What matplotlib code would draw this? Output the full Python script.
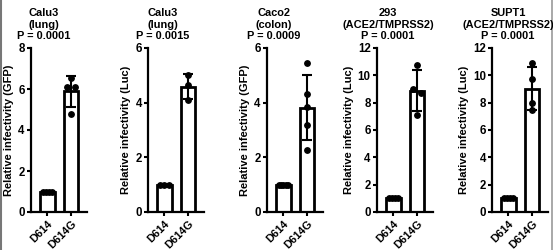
import numpy as np
import matplotlib
matplotlib.use("Agg")
import matplotlib.pyplot as plt
from matplotlib.lines import Line2D

plt.rcParams['font.family'] = ['Liberation Sans', 'DejaVu Sans']
plt.rcParams['font.weight'] = 'bold'

# ---------- DATA ----------
groups = ["D614", "D614G"]
titles = ["Calu3\n(lung)\nP = 0.0001",
          "Calu3\n(lung)\nP = 0.0015",
          "Caco2\n(colon)\nP = 0.0009",
          "293\n(ACE2/TMPRSS2)\nP = 0.0001",
          "SUPT1\n(ACE2/TMPRSS2)\nP = 0.0001"]
ylabels = ["Relative infectivity (GFP)",
           "Relative infectivity (Luc)",
           "Relative infectivity (GFP)",
           "Relative infectivity (Luc)",
           "Relative infectivity (Luc)"]
ymax = [8, 6, 6, 12, 12]

d614 = [[1, 1, 1, 1],
        [1, 1, 1],
        [1, 1, 1, 1, 1],
        [1, 1, 1, 1],
        [1, 1, 1, 1]]
d614g = [[6.55, 6.1, 6.1, 4.8],
         [5.0, 4.65, 4.1],
         [5.44, 4.3, 3.85, 3.2, 2.27],
         [10.75, 9.0, 8.7, 7.1],
         [10.88, 9.75, 8.0, 7.45]]

# ---------- LAYOUT ----------
W, H = 553, 250
ax_left = [31, 148, 267, 377, 492]
ax_w = 56
ax_bottom, ax_top = 212, 48
title_x = [44, 163, 274, 388, 508]
jitter_g = [[0, -0.17, 0.17, 0],
            [0, 0, 0],
            [0, 0, 0, 0, 0],
            [0, -0.17, 0.17, 0],
            [0, 0, 0, 0]]

fig = plt.figure(figsize=(W / 100, H / 100), dpi=100)

for i in range(5):
    ax = fig.add_axes([ax_left[i] / W, (H - ax_bottom) / H,
                       ax_w / W, (ax_bottom - ax_top) / H])
    vals = [np.array(d614[i]), np.array(d614g[i])]
    means = [v.mean() for v in vals]
    sds = [v.std(ddof=1) for v in vals]

    ax.bar([0, 1], means, width=0.62, color="white", edgecolor="black",
           linewidth=2.0, zorder=2)
    ax.errorbar([0, 1], means, yerr=sds, fmt="none", ecolor="black",
                elinewidth=1.5, capsize=3.5, capthick=1.5, zorder=3)

    # points
    n0 = len(vals[0])
    ax.plot(np.linspace(-0.2, 0.2, n0), vals[0], "o", color="black",
            markersize=3.9, zorder=4, clip_on=False)
    ax.plot(1 + np.array(jitter_g[i]), vals[1], "o", color="black",
            markersize=3.9, zorder=4, clip_on=False)

    ax.set_xlim(-0.7, 1.68)
    ax.set_ylim(0, ymax[i])
    ax.set_yticks(np.arange(0, ymax[i] + 1, 2))
    ax.set_xticks([0, 1])
    ax.set_xticklabels(groups, rotation=45, ha="right",
                       rotation_mode="anchor", fontsize=7.9, fontweight="bold")
    ax.tick_params(axis="y", labelsize=8.3, width=1.5, length=3, pad=1.5)
    ax.tick_params(axis="x", width=1.5, length=3, pad=1.5)
    ax.set_ylabel(ylabels[i], fontsize=8, fontweight="bold", labelpad=3)

    for s in ["top", "right"]:
        ax.spines[s].set_visible(False)
    for s in ["left", "bottom"]:
        ax.spines[s].set_linewidth(1.6)

    fig.text(title_x[i] / W, 1 - 24.5 / H, titles[i], ha="center", va="center",
             fontsize=7.9, fontweight="bold", linespacing=1.22)

# grey frame edges of the scanned figure
fig.add_artist(Line2D([1 / W, 1 / W], [0, 1], color="#777777", lw=1.5))
fig.add_artist(Line2D([1 - 1.5 / W, 1 - 1.5 / W], [0, 1], color="#999999", lw=1.2))

fig.savefig("out.png", dpi=100)
